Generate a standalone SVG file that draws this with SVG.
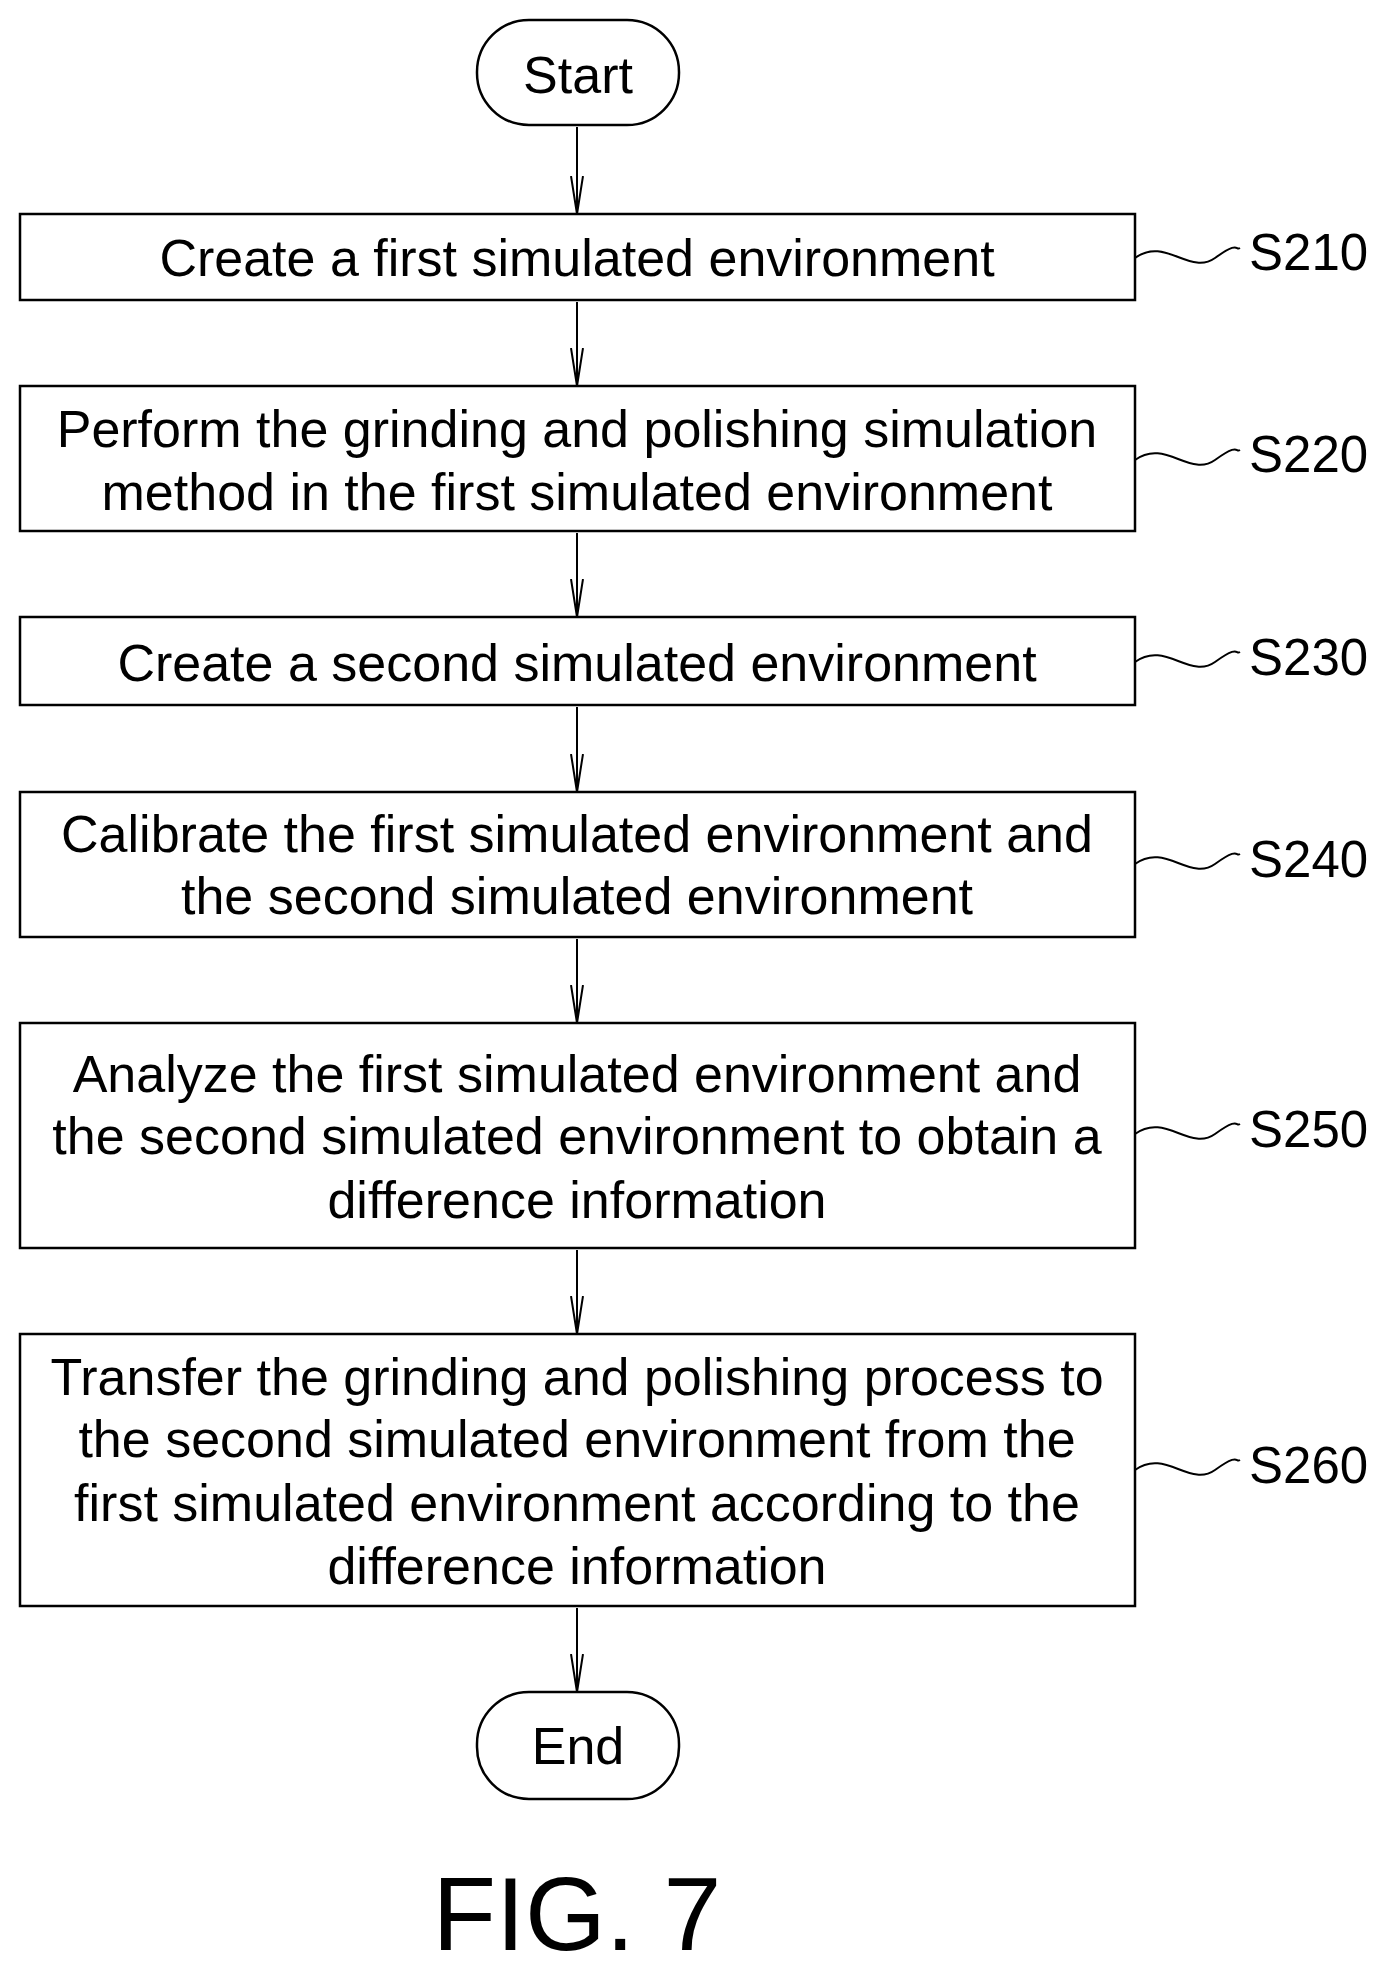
<svg xmlns="http://www.w3.org/2000/svg" width="1388" height="1980" viewBox="0 0 1388 1980">
<style>
.b{fill:#fff;stroke:#000;stroke-width:2.5}
.t{font-family:"Liberation Sans",Arial,sans-serif;font-size:52px;text-anchor:middle;fill:#000}
.l{font-family:"Liberation Sans",Arial,sans-serif;font-size:51px;fill:#000}
.c{fill:none;stroke:#000;stroke-width:2}
</style>
<defs>
<marker id="a" markerWidth="40" markerHeight="14" refX="38" refY="7" orient="auto" markerUnits="userSpaceOnUse" viewBox="0 0 40 14">
<path d="M0,1 L38,7 L0,13" fill="none" stroke="#000" stroke-width="2"/>
</marker>
</defs>
<rect width="1388" height="1980" fill="#fff"/>
<g id="connectors" class="c">
<line x1="577" y1="127" x2="577" y2="214" marker-end="url(#a)"/>
<line x1="577" y1="302" x2="577" y2="386" marker-end="url(#a)"/>
<line x1="577" y1="533" x2="577" y2="617" marker-end="url(#a)"/>
<line x1="577" y1="707" x2="577" y2="792" marker-end="url(#a)"/>
<line x1="577" y1="939" x2="577" y2="1023" marker-end="url(#a)"/>
<line x1="577" y1="1250" x2="577" y2="1334" marker-end="url(#a)"/>
<line x1="577" y1="1608" x2="577" y2="1692" marker-end="url(#a)"/>
<path d="M1135,258 C1165,236 1190,276 1215,258 S1235,251 1240,248"/>
<path d="M1135,460 C1165,438 1190,478 1215,460 S1235,453 1240,450"/>
<path d="M1135,662 C1165,640 1190,680 1215,662 S1235,655 1240,652"/>
<path d="M1135,864 C1165,842 1190,882 1215,864 S1235,857 1240,854"/>
<path d="M1135,1134 C1165,1112 1190,1152 1215,1134 S1235,1127 1240,1124"/>
<path d="M1135,1470 C1165,1448 1190,1488 1215,1470 S1235,1463 1240,1460"/>
</g>
<g id="start"><rect class="b" x="477" y="20" width="202" height="105" rx="52"/><text class="t" x="578" y="93">Start</text></g>
<g id="s210"><rect class="b" x="20" y="214" width="1115" height="86"/><text class="t" x="577" y="276">Create a first simulated environment</text><text class="l" x="1249" y="270">S210</text></g>
<g id="s220"><rect class="b" x="20" y="386" width="1115" height="145"/><text class="t" x="577" y="447">Perform the grinding and polishing simulation</text><text class="t" x="577" y="510">method in the first simulated environment</text><text class="l" x="1249" y="472">S220</text></g>
<g id="s230"><rect class="b" x="20" y="617" width="1115" height="88"/><text class="t" x="577" y="681">Create a second simulated environment</text><text class="l" x="1249" y="675">S230</text></g>
<g id="s240"><rect class="b" x="20" y="792" width="1115" height="145"/><text class="t" x="577" y="852">Calibrate the first simulated environment and</text><text class="t" x="577" y="914">the second simulated environment</text><text class="l" x="1249" y="877">S240</text></g>
<g id="s250"><rect class="b" x="20" y="1023" width="1115" height="225"/><text class="t" x="577" y="1092">Analyze the first simulated environment and</text><text class="t" x="577" y="1154">the second simulated environment to obtain a</text><text class="t" x="577" y="1218">difference information</text><text class="l" x="1249" y="1147">S250</text></g>
<g id="s260"><rect class="b" x="20" y="1334" width="1115" height="272"/><text class="t" x="577" y="1395">Transfer the grinding and polishing process to</text><text class="t" x="577" y="1457">the second simulated environment from the</text><text class="t" x="577" y="1521">first simulated environment according to the</text><text class="t" x="577" y="1584">difference information</text><text class="l" x="1249" y="1483">S260</text></g>
<g id="end"><rect class="b" x="477" y="1692" width="202" height="107" rx="52"/><text class="t" x="578" y="1764">End</text></g>
<text x="577" y="1950" font-family="Liberation Sans, Arial, sans-serif" font-size="104" text-anchor="middle">FIG. 7</text>
</svg>
